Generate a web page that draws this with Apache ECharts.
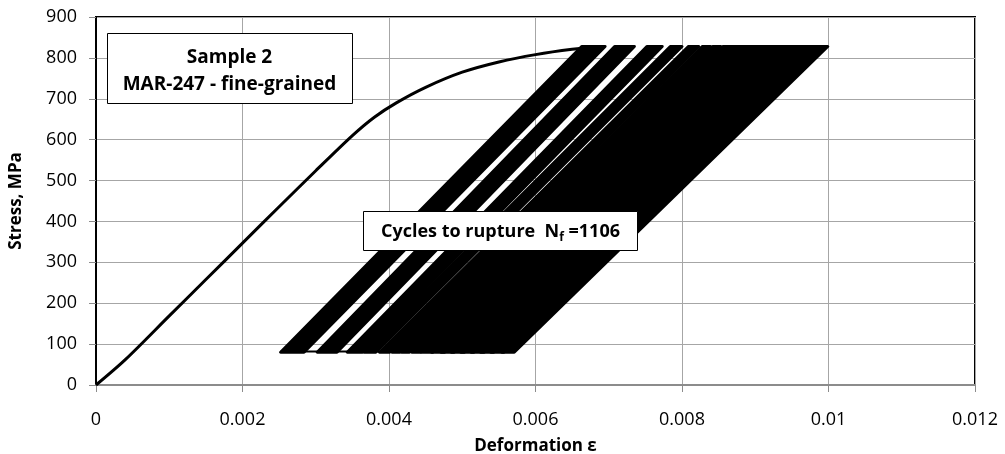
<!DOCTYPE html>
<html>
<head>
<meta charset="utf-8">
<script src="https://cdn.jsdelivr.net/npm/echarts@6/dist/echarts.min.js"></script>
<style>
html,body{margin:0;padding:0;background:#fff;}
#chart{width:1005px;height:454px;}
</style>
</head>
<body>
<div id="chart"></div>
<script>
// ---- data ----
const xTicks = [0, 0.002, 0.004, 0.006, 0.008, 0.01, 0.012];
const yTicks = [0, 100, 200, 300, 400, 500, 600, 700, 800, 900];

// initial monotonic loading curve (strain, stress MPa)
const loadStrain = [0, 0.0004, 0.0010, 0.0015, 0.0020, 0.0025, 0.0030, 0.0035, 0.0038, 0.0041, 0.0045, 0.0050, 0.0055, 0.0060, 0.0065, 0.0069];
const loadStress = [0, 62, 169, 258, 347, 436, 524, 610, 655, 690, 728, 765, 790, 808, 821, 828];

// cyclic bands (groups of hysteresis loops): valley strain (left), peak strain (right), band width
const cycleMinStress = 80;
const cycleMaxStress = 828;
const bandValley = [0.00252, 0.00302, 0.00343, 0.00366, 0.00387, 0.00404, 0.00417, 0.00431, 0.00444, 0.00458, 0.00471, 0.00485, 0.00498, 0.00512, 0.00525, 0.00539, 0.00554];
const bandPeak   = [0.00695, 0.00735, 0.00773, 0.00800, 0.00823, 0.00839, 0.00853, 0.00868, 0.00882, 0.00897, 0.00911, 0.00926, 0.00940, 0.00955, 0.00969, 0.00984, 0.00999];
const bandWidth  = [0.00032, 0.00027, 0.00021, 0.00016, 0.00014, 0.00011, 0.00011, 0.00012, 0.00016, 0.00018, 0.00018, 0.00018, 0.00018, 0.00018, 0.00018, 0.00018, 0.00017];

// valley trace
const valleyStrain = [0.00252, 0.00572];
const valleyStress = [82, 82];

const boxTitle = ['Sample 2', 'MAR-247 - fine-grained'];
const cyclesText = 'Cycles to rupture  N';
const cyclesSub = 'f';
const cyclesValue = ' =1106';

// ---- chart ----
const chart = echarts.init(document.getElementById('chart'), null, {renderer: 'canvas'});
const FONT = 'Open Sans';

const loadData = loadStrain.map((x, i) => [x, loadStress[i]]);
const bandData = bandValley.map((v, i) => [v, bandPeak[i], bandWidth[i]]);
const valleyData = valleyStrain.map((x, i) => [x, valleyStress[i]]);

const option = {
  animation: false,
  grid: {left: 96, right: 30, top: 17, bottom: 69, containLabel: false, outerBoundsMode: 'none',
         show: true, borderColor: '#000', borderWidth: 2, backgroundColor: 'transparent'},
  xAxis: {
    type: 'value', min: 0, max: 0.012, interval: 0.002,
    name: 'Deformation ε', nameLocation: 'middle', nameGap: 53,
    nameTextStyle: {fontFamily: FONT, fontWeight: 'bold', fontSize: 17, color: '#000'},
    axisLine: {show: true, onZero: false, lineStyle: {color: '#8c8c8c', width: 2}},
    axisTick: {show: true, inside: false, length: 7, lineStyle: {color: '#8c8c8c'}},
    axisLabel: {fontFamily: FONT, fontSize: 18, color: '#000', margin: 26, formatter: v => String(+v.toFixed(3))},
    splitLine: {show: true, lineStyle: {color: '#a6a6a6', width: 1}}
  },
  yAxis: {
    type: 'value', min: 0, max: 900, interval: 100,
    name: 'Stress, MPa', nameLocation: 'middle', nameGap: 71,
    nameTextStyle: {fontFamily: FONT, fontWeight: 'bold', fontSize: 17, color: '#000'},
    axisLine: {show: true, lineStyle: {color: '#000', width: 2}},
    axisTick: {show: true, inside: false, length: 7, lineStyle: {color: '#8c8c8c'}},
    axisLabel: {fontFamily: FONT, fontSize: 18, color: '#000', margin: 19},
    splitLine: {show: true, lineStyle: {color: '#a6a6a6', width: 1}}
  },
  series: [
    {
      type: 'custom', name: 'cycles', clip: true,
      encode: {x: [0, 1]},
      renderItem: function (params, api) {
        const xv = api.value(0), xp = api.value(1), w = api.value(2);
        const pts = [
          api.coord([xv, cycleMinStress]),
          api.coord([xv + w, cycleMinStress]),
          api.coord([xp, cycleMaxStress]),
          api.coord([xp - w, cycleMaxStress])
        ];
        return {type: 'polygon', shape: {points: pts}, style: {fill: '#000', stroke: '#000', lineWidth: 3, lineJoin: 'round'}};
      },
      data: bandData
    },
    {
      type: 'line', name: 'valley', data: valleyData, symbol: 'none',
      lineStyle: {color: '#000', width: 2}
    },
    {
      type: 'line', name: 'loading', data: loadData, symbol: 'none', smooth: 0.3,
      lineStyle: {color: '#000', width: 3}
    }
  ],
  graphic: [
    {
      type: 'group', left: 107, top: 33, z: 100,
      children: [
        {type: 'rect', z: 100, shape: {x: 0, y: 0, width: 245, height: 70}, style: {fill: '#fff', stroke: '#000', lineWidth: 1}},
        {type: 'text', z: 101, x: 122, y: 24, style: {text: boxTitle[0], fontFamily: FONT, fontWeight: 'bold', fontSize: 19, fill: '#000', align: 'center', verticalAlign: 'middle'}},
        {type: 'text', z: 101, x: 122, y: 51, style: {text: boxTitle[1], fontFamily: FONT, fontWeight: 'bold', fontSize: 19, fill: '#000', align: 'center', verticalAlign: 'middle'}}
      ]
    },
    {
      type: 'group', left: 363, top: 211, z: 100,
      children: [
        {type: 'rect', z: 100, shape: {x: 0, y: 0, width: 274, height: 39}, style: {fill: '#fff', stroke: '#000', lineWidth: 1}},
        {type: 'text', z: 101, x: 137, y: 20, style: {
          text: '{a|' + cyclesText + '}{s|' + cyclesSub + '}{a|' + cyclesValue + '}',
          align: 'center', verticalAlign: 'middle',
          rich: {
            a: {fontFamily: FONT, fontWeight: 'bold', fontSize: 18, fill: '#000', lineHeight: 24, verticalAlign: 'middle'},
            s: {fontFamily: FONT, fontWeight: 'bold', fontSize: 12, fill: '#000', lineHeight: 24, verticalAlign: 'bottom', padding: [8, 0, 0, 0]}
          }
        }}
      ]
    }
  ]
};
chart.setOption(option);
</script>
</body>
</html>
